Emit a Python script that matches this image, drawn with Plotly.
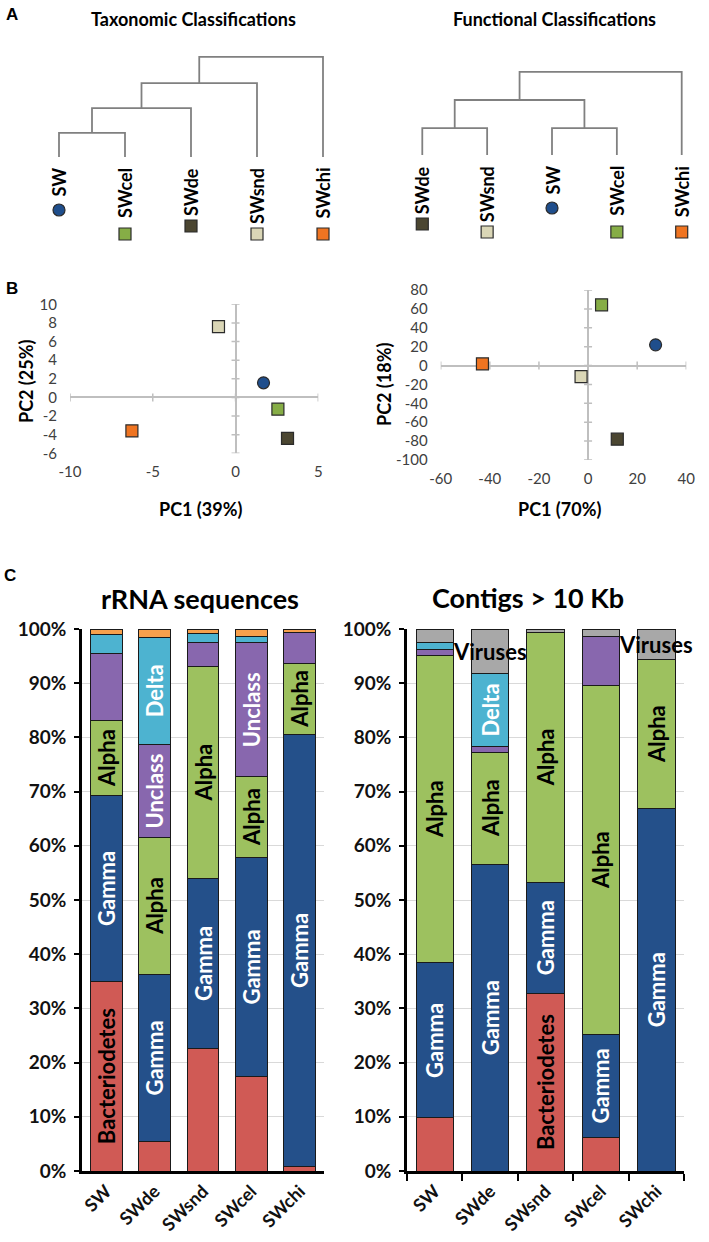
import plotly.graph_objects as go

W, H = 709, 1242
FONT = "Lato"

# ---------------- data ----------------
samples = ["SW", "SWde", "SWsnd", "SWcel", "SWchi"]
sample_colors = ["#1F4E8C", "#4B4631", "#DAD6B6", "#86AD46", "#EF7421"]
sample_symbols = ["circle", "square", "square", "square", "square"]

# A: dendrograms (leaf order, linkage rows: [child a, child b, height])
tax_leaves = ["SW", "SWcel", "SWde", "SWsnd", "SWchi"]
tax_links = [[0, 1, 0.98], [5, 2, 1.99], [6, 3, 3.00], [7, 4, 4.07]]
func_leaves = ["SWde", "SWsnd", "SW", "SWcel", "SWchi"]
func_links = [[0, 1, 0.98], [2, 3, 0.98], [5, 6, 2.00], [7, 4, 3.02]]

# B: PCA scores (order = samples)
tax_pc1 = [1.69, 3.14, -1.03, 2.56, -6.26]
tax_pc2 = [1.57, -4.40, 7.60, -1.26, -3.59]
func_pc1 = [27.5, 11.9, -2.85, 5.5, -43.0]
func_pc2 = [21.9, -78.0, -11.7, 64.3, 1.8]

# C: stacked percentages (order = samples)
rrna_bacteroidetes = [35.0, 5.4, 22.6, 17.4, 0.9]
rrna_gamma = [34.3, 30.9, 31.4, 40.5, 79.6]
rrna_alpha = [13.8, 25.2, 39.0, 14.8, 13.2]
rrna_unclass = [12.4, 17.2, 4.6, 24.8, 5.7]
rrna_delta = [3.4, 19.8, 1.6, 1.2, 0.0]
rrna_other = [1.1, 1.5, 0.8, 1.3, 0.6]

contig_bacteroidetes = [9.8, 0.0, 32.8, 6.2, 0.0]
contig_gamma = [28.6, 56.6, 20.5, 19.0, 66.9]
contig_alpha = [56.7, 20.7, 46.0, 64.3, 27.4]
contig_unclass = [1.1, 1.0, 0.0, 9.1, 0.0]
contig_delta = [1.4, 13.5, 0.0, 0.0, 0.0]
contig_viruses = [2.4, 8.2, 0.7, 1.4, 5.7]

rrna_bacteroidetes_lbl = ["Bacteriodetes", "", "", "", ""]
rrna_gamma_lbl = ["Gamma"] * 5
rrna_alpha_lbl = ["Alpha"] * 5
rrna_unclass_lbl = ["", "Unclass", "", "Unclass", ""]
rrna_delta_lbl = ["", "Delta", "", "", ""]
rrna_other_lbl = [""] * 5

contig_bacteroidetes_lbl = ["", "", "Bacteriodetes", "", ""]
contig_gamma_lbl = ["Gamma"] * 5
contig_alpha_lbl = ["Alpha"] * 5
contig_unclass_lbl = [""] * 5
contig_delta_lbl = ["", "Delta", "", "", ""]
contig_viruses_lbl = ["", "Viruses", "", "", "Viruses"]

pct_ticks = list(range(0, 101, 10))

# ---------------- helpers ----------------
def dx(a, b):
    return [a / W, b / W]

def dy(top, bottom):
    return [1 - bottom / H, 1 - top / H]

def px(x):
    return x / W

def py(y):
    return 1 - y / H

def dendro_path(links, n):
    xs = {i: float(i) for i in range(n)}
    hs = {i: 0.0 for i in range(n)}
    lx, ly = [], []
    for k, (a, b, h) in enumerate(links):
        lx += [xs[a], xs[a], xs[b], xs[b], None]
        ly += [hs[a], h, h, hs[b], None]
        xs[n + k] = (xs[a] + xs[b]) / 2
        hs[n + k] = h
    return lx, ly

fig = go.Figure()
annotations = []
shapes = []

# ---------------- A: dendrograms ----------------
dendros = [
    ("x", "y", tax_leaves, tax_links, [52.4, 329.6], [53.7, 250.5], [-3.8, 4.2]),
    ("x2", "y2", func_leaves, func_links, [415.8, 688.2], [64.25, 248.5], [-3.4, 3.3]),
]
layout_axes = {}
for i, (xr, yr, leaves, links, xdom, ydom, yrange) in enumerate(dendros):
    lx, ly = dendro_path(links, len(leaves))
    fig.add_trace(go.Scatter(x=lx, y=ly, mode="lines", xaxis=xr, yaxis=yr,
                             line=dict(color="#808080", width=1.8),
                             hoverinfo="skip", showlegend=False))
    ppu = (ydom[1] - ydom[0]) / (yrange[1] - yrange[0])
    mk_y, mk_c, mk_s = [], [], []
    for j, name in enumerate(leaves):
        k = samples.index(name)
        off = 37 + 8 * len(name)
        mk_y.append(-off / ppu)
        mk_c.append(sample_colors[k])
        mk_s.append(sample_symbols[k])
        annotations.append(dict(x=j, y=0, xref=xr, yref=yr, yshift=-9, text=name,
                                textangle=-90, xanchor="center", yanchor="top",
                                showarrow=False,
                                font=dict(family=FONT, size=18, color="#000", weight="bold")))
    fig.add_trace(go.Scatter(x=list(range(len(leaves))), y=mk_y, mode="markers",
                             xaxis=xr, yaxis=yr, cliponaxis=False,
                             marker=dict(color=mk_c, symbol=mk_s, size=12,
                                         line=dict(color="#2b2b2b", width=1.2)),
                             hoverinfo="skip", showlegend=False))
    sfx = "" if i == 0 else "2"
    layout_axes["xaxis" + sfx] = dict(domain=dx(*xdom), range=[-0.1, 4.1], visible=False)
    layout_axes["yaxis" + sfx] = dict(domain=dy(*ydom), range=yrange, visible=False)

# ---------------- B: PCA ----------------
pcas = [
    ("x3", "y3", tax_pc1, tax_pc2, [70, 318.3], [304.3, 453.3], [-10, 5], [-6, 10],
     list(range(-10, 6, 5)), list(range(-6, 11, 2)), 12, 8),
    ("x4", "y4", func_pc1, func_pc2, [440.7, 686.3], [290, 460], [-60, 40], [-100, 80],
     list(range(-60, 41, 20)), list(range(-100, 81, 20)), 12, 8),
]
for i, (xr, yr, pc1, pc2, xdom, ydom, xrange_, yrange_, xt, yt, ysd, xsd) in enumerate(pcas):
    fig.add_trace(go.Scatter(x=pc1, y=pc2, mode="markers", xaxis=xr, yaxis=yr,
                             cliponaxis=False,
                             marker=dict(color=sample_colors, symbol=sample_symbols, size=12,
                                         line=dict(color="#2b2b2b", width=1.2)),
                             hoverinfo="skip", showlegend=False))
    sfx = str(3 + i)
    common = dict(showgrid=False, zeroline=True, zerolinecolor="#BFBFBF", zerolinewidth=1.5,
                  showline=False, ticks="", ticklabeloverflow="allow",
                  tickfont=dict(family=FONT, size=15, color="#404040"))
    layout_axes["xaxis" + sfx] = dict(domain=dx(*xdom), range=xrange_, tickvals=xt,
                                      ticktext=[str(v) for v in xt], anchor="y" + sfx,
                                      ticklabelstandoff=xsd, **common)
    layout_axes["yaxis" + sfx] = dict(domain=dy(*ydom), range=yrange_, tickvals=yt,
                                      ticktext=[str(v) for v in yt], anchor="x" + sfx,
                                      ticklabelstandoff=ysd, **common)
    for t in xt:
        shapes.append(dict(type="line", xref=xr, yref=yr, x0=t, x1=t, ysizemode="pixel",
                           yanchor=0, y0=-4, y1=4, layer="below",
                           line=dict(color="#BFBFBF", width=1.5)))
    for t in yt:
        shapes.append(dict(type="line", xref=xr, yref=yr, y0=t, y1=t, xsizemode="pixel",
                           xanchor=0, x0=-4, x1=4, layer="below",
                           line=dict(color="#BFBFBF", width=1.5)))

# ---------------- C: stacked bars ----------------
series_style = [
    ("Bacteriodetes", "#D05A55", "#000000"),
    ("Gamma", "#24508A", "#FFFFFF"),
    ("Alpha", "#9DC15F", "#000000"),
    ("Unclass", "#8867AE", "#FFFFFF"),
    ("Delta", "#4DB3D0", "#FFFFFF"),
]
rrna_series = [(rrna_bacteroidetes, rrna_bacteroidetes_lbl), (rrna_gamma, rrna_gamma_lbl),
               (rrna_alpha, rrna_alpha_lbl), (rrna_unclass, rrna_unclass_lbl),
               (rrna_delta, rrna_delta_lbl), (rrna_other, rrna_other_lbl)]
contig_series = [(contig_bacteroidetes, contig_bacteroidetes_lbl), (contig_gamma, contig_gamma_lbl),
                 (contig_alpha, contig_alpha_lbl), (contig_unclass, contig_unclass_lbl),
                 (contig_delta, contig_delta_lbl), (contig_viruses, contig_viruses_lbl)]
top_styles = {"x5": ("Other", "#F6A04C", "#000000"),
              "x6": ("Viruses", "#A8A8A8", "#000000")}

BAR_FONT = 22
for xr, yr, series, bw in [("x5", "y5", rrna_series, 0.66), ("x6", "y6", contig_series, 0.675)]:
    cum = [0.0] * len(samples)
    for k, (vals, lbls) in enumerate(series):
        if k < 5:
            name, col, tcol = series_style[k]
            bar_text = lbls
        else:
            name, col, tcol = top_styles[xr]
            bar_text = [""] * len(samples)
            # horizontal labels that overflow the bar width
            for j, s in enumerate(lbls):
                if s:
                    annotations.append(dict(x=samples[j], y=cum[j] + vals[j] / 2,
                                            xref=xr, yref=yr, text=s, showarrow=False,
                                            xanchor="center", yanchor="middle",
                                            font=dict(family=FONT, size=BAR_FONT,
                                                      color=tcol, weight="bold")))
        fig.add_trace(go.Bar(x=samples, y=vals, text=bar_text, name=name, xaxis=xr, yaxis=yr,
                             width=bw, marker=dict(color=col, line=dict(color="#1a1a1a", width=1)),
                             textposition="inside", insidetextanchor="middle",
                             textangle=-90, constraintext="none", cliponaxis=False,
                             textfont=dict(family=FONT, size=BAR_FONT, color=tcol, weight="bold"),
                             hoverinfo="skip", showlegend=False))
        cum = [c + v for c, v in zip(cum, vals)]

for sfx, xdom, tks in [("5", [82, 324], dict(ticks="")),
                       ("6", [407, 684], dict(ticks="outside", tickson="boundaries",
                                               ticklen=7, tickwidth=2, tickcolor="#000"))]:
    layout_axes["xaxis" + sfx] = dict(domain=dx(*xdom), type="category",
                                      categoryorder="array", categoryarray=samples,
                                      range=[-0.5, 4.5], showline=True, linecolor="#000",
                                      linewidth=2.5, tickangle=-45, showgrid=False,
                                      zeroline=False, anchor="y" + sfx,
                                      tickfont=dict(family=FONT, size=18, color="#111",
                                                    weight="bold"), **tks)
    layout_axes["yaxis" + sfx] = dict(domain=dy(629, 1171), range=[0, 100], tickvals=pct_ticks,
                                      ticktext=[f"{v}%" for v in pct_ticks], showline=True,
                                      linecolor="#000", linewidth=2.5, ticks="outside",
                                      ticklen=5, tickwidth=2, tickcolor="#000",
                                      ticklabelstandoff=4, showgrid=True,
                                      gridcolor="#D9D9D9", gridwidth=1, zeroline=False,
                                      anchor="x" + sfx,
                                      tickfont=dict(family=FONT, size=19, color="#111",
                                                    weight="bold"))

# ---------------- texts ----------------
def txt(x, y, s, size, angle=0, family=FONT, weight="bold", xanchor="center"):
    annotations.append(dict(x=px(x), y=py(y), xref="paper", yref="paper", text=s,
                            showarrow=False, textangle=angle, xanchor=xanchor,
                            yanchor="middle",
                            font=dict(family=family, size=size, color="#000", weight=weight)))

txt(4, 14, "A", 17, family="Liberation Sans", xanchor="left")
txt(4, 288, "B", 17, family="Liberation Sans", xanchor="left")
txt(2, 575, "C", 17, family="Liberation Sans", xanchor="left")
txt(193, 19, "Taxonomic Classifications", 18)
txt(554, 19, "Functional Classifications", 18)
txt(26, 382, "PC2 (25%)", 18, angle=-90)
txt(200, 509, "PC1 (39%)", 18)
txt(384, 385, "PC2 (18%)", 18, angle=-90)
txt(559, 509, "PC1 (70%)", 18)
txt(200, 599, "rRNA sequences", 27)
txt(528, 598, "Contigs > 10 Kb", 27)

fig.update_layout(width=W, height=H, margin=dict(l=0, r=0, t=0, b=0),
                  template="none", paper_bgcolor="white", plot_bgcolor="white",
                  barmode="stack", showlegend=False, font=dict(family=FONT),
                  annotations=annotations, shapes=shapes, **layout_axes)

fig.write_html("out.html", config={"displayModeBar": False},
               post_script="document.body.style.margin='0';"
                           "document.body.style.overflow='hidden';")
